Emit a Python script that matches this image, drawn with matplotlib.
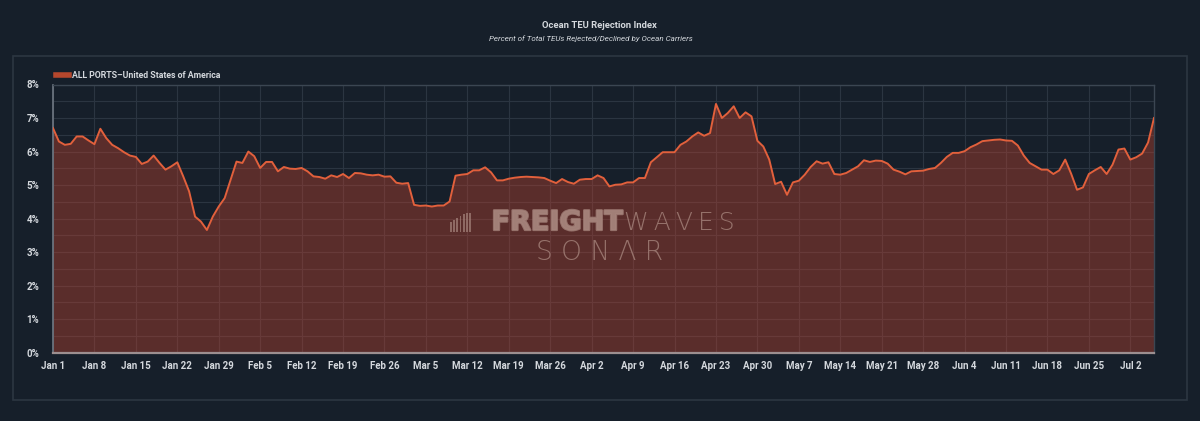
import matplotlib
matplotlib.use("Agg")
import matplotlib.pyplot as plt
import matplotlib.dates as mdates
import matplotlib.patheffects as pe
from matplotlib.patches import Rectangle
from matplotlib.ticker import MultipleLocator, FuncFormatter
import pandas as pd

# ---------------- data ----------------
title = "Ocean TEU Rejection Index"
subtitle = "Percent of Total TEUs Rejected/Declined by Ocean Carriers"
series_name = "ALL PORTS\u2013United States of America"
start_date = "2023-01-01"
values = [
    6.70, 6.30, 6.20, 6.23, 6.45, 6.45, 6.33, 6.22, 6.68, 6.40,
    6.20, 6.10, 5.98, 5.88, 5.84, 5.63, 5.70, 5.88, 5.66, 5.46,
    5.56, 5.68, 5.26, 4.81, 4.06, 3.91, 3.66, 4.06, 4.36, 4.61,
    5.16, 5.70, 5.66, 6.00, 5.86, 5.51, 5.69, 5.69, 5.41, 5.54,
    5.49, 5.48, 5.51, 5.41, 5.26, 5.24, 5.19, 5.29, 5.24, 5.33,
    5.21, 5.36, 5.35, 5.31, 5.29, 5.31, 5.25, 5.26, 5.07, 5.04,
    5.06, 4.41, 4.38, 4.39, 4.36, 4.39, 4.39, 4.51, 5.28, 5.31,
    5.33, 5.44, 5.44, 5.53, 5.38, 5.14, 5.14, 5.19, 5.22, 5.24,
    5.25, 5.24, 5.23, 5.21, 5.13, 5.06, 5.18, 5.09, 5.04, 5.16,
    5.18, 5.18, 5.29, 5.21, 4.96, 5.01, 5.02, 5.08, 5.08, 5.21,
    5.21, 5.68, 5.83, 5.98, 5.98, 5.98, 6.20, 6.30, 6.45, 6.57,
    6.47, 6.55, 7.42, 7.00, 7.15, 7.35, 7.00, 7.17, 7.05, 6.32,
    6.15, 5.76, 5.03, 5.10, 4.71, 5.08, 5.13, 5.31, 5.54, 5.71,
    5.64, 5.68, 5.33, 5.31, 5.36, 5.46, 5.56, 5.74, 5.69, 5.73,
    5.72, 5.64, 5.46, 5.40, 5.32, 5.41, 5.42, 5.43, 5.48, 5.51,
    5.66, 5.84, 5.96, 5.96, 6.01, 6.13, 6.21, 6.31, 6.33, 6.35,
    6.36, 6.33, 6.32, 6.18, 5.88, 5.66, 5.56, 5.46, 5.46, 5.33,
    5.44, 5.76, 5.34, 4.86, 4.93, 5.33, 5.44, 5.54, 5.33, 5.61,
    6.06, 6.09, 5.76, 5.83, 5.94, 6.27, 7.00,
]
y_ticks = [0, 1, 2, 3, 4, 5, 6, 7, 8]

dates = pd.date_range(start_date, periods=len(values), freq="D")

# ---------------- style ----------------
BG = "#161f2a"
TXT = "#d4d8dd"
LINE = "#e2603c"
FILL = "#c2442f"
GRID = "#2b3541"
FONT = ["Roboto", "DejaVu Sans"]
plt.rcParams["font.family"] = FONT

fig = plt.figure(figsize=(12, 4.21), dpi=100, facecolor=BG)

# panel box
fig.patches.append(Rectangle((13 / 1200, 1 - 400 / 421), (1187 - 13) / 1200, (400 - 56) / 421,
                             transform=fig.transFigure, facecolor="none",
                             edgecolor="#2c3642", linewidth=1.2, zorder=0))

ax = fig.add_axes([53 / 1200, 1 - 352.7 / 421, (1154 - 53) / 1200, (352.7 - 84.5) / 421])
ax.set_facecolor(BG)

ax.fill_between(dates, values, 0, color=FILL, alpha=0.40, linewidth=0, zorder=2)
ax.plot(dates, values, color=LINE, linewidth=1.4, zorder=3, label=series_name)

ax.set_xlim(dates[0], dates[-1])
ax.set_ylim(0, 8)
ax.set_yticks(y_ticks)
ax.yaxis.set_major_formatter(FuncFormatter(lambda v, p: f"{int(v)}%"))
ax.yaxis.set_minor_locator(MultipleLocator(0.5))

ax.set_xticks(pd.date_range(start_date, dates[-1], freq="7D"))
ax.xaxis.set_major_formatter(FuncFormatter(
    lambda v, p: (lambda d: f"{d.strftime('%b')} {d.day}")(mdates.num2date(v))))

ax.grid(which="major", color=GRID, linewidth=0.8, zorder=1)
ax.grid(which="minor", axis="y", color=GRID, linewidth=0.8, zorder=1)
ax.set_axisbelow(True)

ax.tick_params(axis="both", which="both", length=0, colors=TXT, labelsize=7)
ax.tick_params(axis="y", pad=10)
ax.tick_params(axis="x", pad=6)
for lbl in ax.get_xticklabels() + ax.get_yticklabels():
    lbl.set_fontweight("bold")
    lbl.set_color(TXT)

for side in ["top", "right"]:
    ax.spines[side].set_color("#3b4652")
    ax.spines[side].set_linewidth(1.0)
ax.spines["left"].set_color("#6f7883")
ax.spines["left"].set_linewidth(1.2)
ax.spines["bottom"].set_color("#9c8f90")
ax.spines["bottom"].set_linewidth(1.6)

# legend
leg = ax.legend(loc="lower left", bbox_to_anchor=(-0.002, 1.0), frameon=False,
                handlelength=1.5, handleheight=0.5, handletextpad=0.35,
                borderaxespad=0.15, fontsize=6.3)
leg.get_lines()[0].set_linewidth(4)
leg.get_lines()[0].set_color("#b5472d")
for t in leg.get_texts():
    t.set_color(TXT)
    t.set_fontweight("bold")

# titles
fig.text(599 / 1200, 1 - 26 / 421, title, ha="center", va="center",
         color=TXT, fontsize=6.8, fontweight="bold")
fig.text(591 / 1200, 1 - 38.5 / 421, subtitle, ha="center", va="center",
         color=TXT, fontsize=5.8, style="italic")

# watermark
WM = "#a5837b"
fig.text(623 / 1200, 1 - 223 / 421, "FREIGHT", ha="right", va="center", color=WM,
         fontsize=19.5, fontweight="bold", family=["DejaVu Sans"], alpha=0.8,
         path_effects=[pe.withStroke(linewidth=1.6, foreground=WM)])
fig.text(624 / 1200, 1 - 223 / 421, "W\u2009A\u2009V\u2009E\u2009S", ha="left", va="center",
         color=WM, fontsize=18, fontweight="light", family=["DejaVu Sans"], alpha=0.8)
fig.text(600 / 1200, 1 - 252 / 421, "S O N \u039b R", ha="center", va="center", color=WM,
         fontsize=19, fontweight="light", family=["DejaVu Sans"], alpha=0.8)
for i, h in enumerate([10, 12, 14, 16, 18, 19, 19]):
    fig.patches.append(Rectangle(((450 + i * 3.2) / 1200, 1 - 232 / 421), 1.8 / 1200, h / 421,
                                 transform=fig.transFigure, facecolor=WM, alpha=0.7,
                                 edgecolor="none", zorder=5))

fig.savefig("out.png", dpi=100, facecolor=BG)
